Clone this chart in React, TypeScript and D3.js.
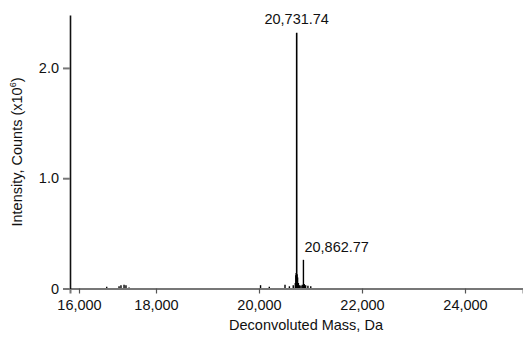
import { useRef, useEffect } from 'react'
import * as d3 from 'd3'

// peak list, mass in Da and intensity in counts x10^6
const masses = [
  16720, 17040, 17090, 17170, 17220, 17300,
  20030, 20200, 20505, 20590, 20665,
  20705, 20715, 20722, 20731.74, 20740, 20750, 20765, 20790, 20815, 20840,
  20862.77, 20880, 20905, 20950, 21005
]
const intensities = [
  0.015, 0.02, 0.03, 0.035, 0.03, 0.01,
  0.03, 0.015, 0.035, 0.02, 0.03,
  0.05, 0.12, 0.14, 2.32, 0.13, 0.1, 0.05, 0.03, 0.025, 0.035,
  0.26, 0.04, 0.03, 0.025, 0.02
]
const labelled = [20731.74, 20862.77]

const xTicks = [16000, 18000, 20000, 22000, 24000]
const yTicks = [0, 1, 2]

const App = () => {
  const ref = useRef(null)

  useEffect(() => {
    const svg = d3.select(ref.current)
    svg.selectAll('*').remove()

    const font = '"Liberation Sans", Arial, sans-serif'

    // tick spacing in the original is uneven below 18,000
    const x = d3.scaleLinear()
      .domain([15780, 16000, 18000, 24000, 25170])
      .range([70, 79, 156, 465, 523])
    const y = d3.scaleLinear()
      .domain([0, 2.48])
      .range([288.5, 15])

    // PEAKS
    const peaks = masses.map((m, i) => ({ mass: m, value: intensities[i] }))
    svg.append('g')
      .selectAll('line')
      .data(peaks)
      .enter()
      .append('line')
        .attr('x1', d => x(d.mass))
        .attr('x2', d => x(d.mass))
        .attr('y1', y(0))
        .attr('y2', d => y(d.value))
        .attr('stroke', '#000')
        .attr('stroke-width', d => d.value > 1 ? 1.6 : 1.4)

    // X AXIS
    const xAxis = d3.axisBottom(x)
      .tickValues(xTicks)
      .tickSize(5)
      .tickPadding(6)
      .tickFormat(d3.format(','))
    const gx = svg.append('g')
      .attr('transform', `translate(0, ${y(0)})`)
      .call(xAxis)
    gx.select('.domain').attr('stroke', '#777').attr('stroke-width', 2)
    gx.selectAll('.tick line').attr('stroke', '#555').attr('stroke-width', 1.2)
    gx.selectAll('text')
      .attr('font-family', font)
      .attr('font-size', 14.5)
      .attr('fill', '#111')

    // Y AXIS
    const yAxis = d3.axisLeft(y)
      .tickValues(yTicks)
      .tickSize(7)
      .tickPadding(4)
      .tickSizeOuter(0)
      .tickFormat(d => d === 0 ? '0' : d3.format('.1f')(d))
    const gy = svg.append('g')
      .attr('transform', 'translate(70, 0)')
      .call(yAxis)
    gy.select('.domain').attr('stroke', '#111').attr('stroke-width', 1.6)
    gy.selectAll('.tick line').attr('stroke', '#777').attr('stroke-width', 2)
    gy.selectAll('text')
      .attr('font-family', font)
      .attr('font-size', 14.5)
      .attr('fill', '#111')

    // PEAK LABELS
    svg.append('text')
      .attr('x', x(labelled[0]))
      .attr('y', 24)
      .attr('text-anchor', 'middle')
      .attr('font-family', font)
      .attr('font-size', 14.5)
      .attr('fill', '#111')
      .text(d3.format(',.2f')(labelled[0]))
    svg.append('text')
      .attr('x', x(labelled[1]) + 1)
      .attr('y', 252)
      .attr('font-family', font)
      .attr('font-size', 14.5)
      .attr('fill', '#111')
      .text(d3.format(',.2f')(labelled[1]))

    // AXIS TITLES
    svg.append('text')
      .attr('x', 306)
      .attr('y', 330)
      .attr('text-anchor', 'middle')
      .attr('font-family', font)
      .attr('font-size', 14.5)
      .attr('fill', '#111')
      .text('Deconvoluted Mass, Da')

    const yt = svg.append('text')
      .attr('transform', 'translate(22, 152) rotate(-90)')
      .attr('text-anchor', 'middle')
      .attr('font-family', font)
      .attr('font-size', 14.5)
      .attr('fill', '#111')
    yt.append('tspan').text('Intensity, Counts (x10')
    yt.append('tspan').attr('font-size', 9).attr('dy', -6).text('6')
    yt.append('tspan').attr('dy', 6).text(')')
  }, [])

  return (
    <svg ref={ ref } width={ 523 } height={ 338 }
      style={ { position: 'absolute', left: 0, top: 0, background: '#fff' } }></svg>
  )
}

export default App
